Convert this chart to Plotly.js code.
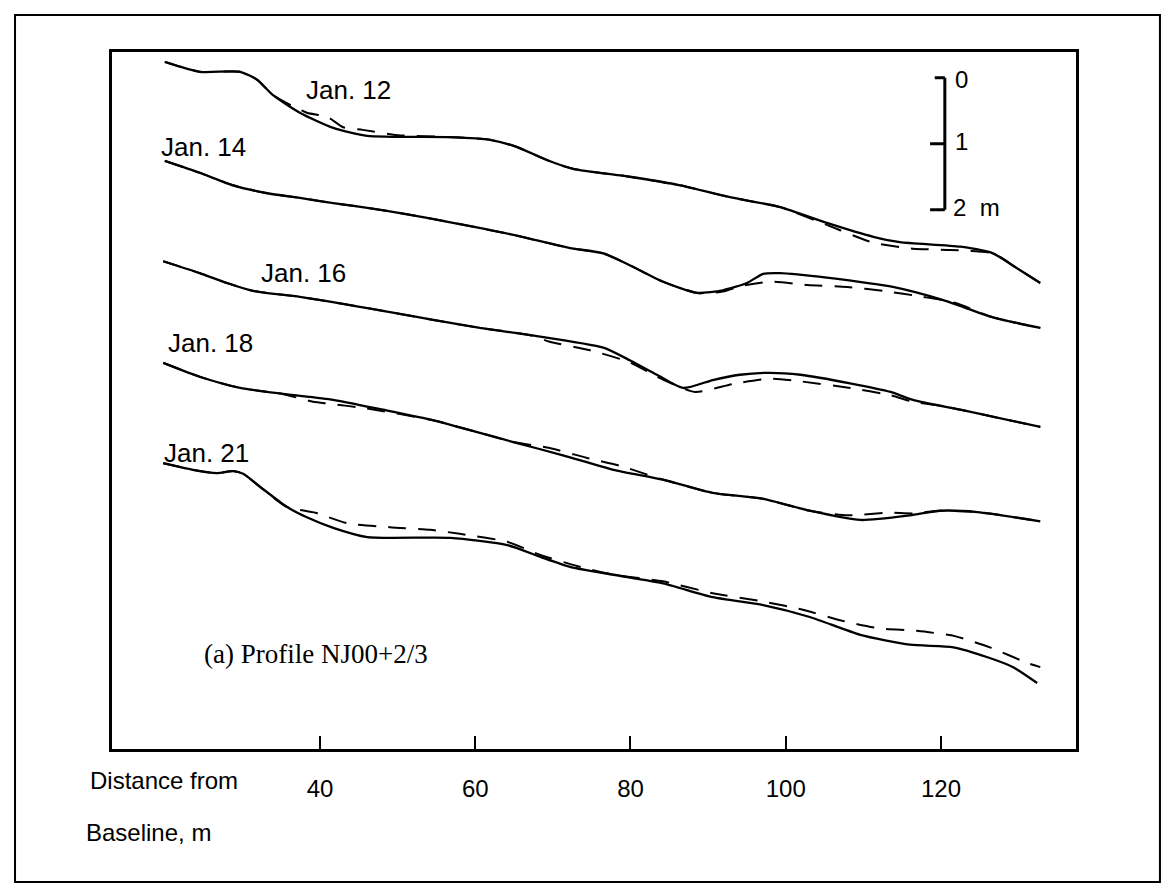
<!DOCTYPE html>
<html><head><meta charset="utf-8">
<script src="https://cdn.plot.ly/plotly-3.0.1.min.js"></script>
<style>body{margin:0;background:#fff}#chart{width:1174px;height:894px}</style>
</head><body><div id="chart"></div>
<script>
// Distance from baseline (m) and stacked profile elevation (m, display offset included)
const profileNames = ["Jan. 12", "Jan. 14", "Jan. 16", "Jan. 18", "Jan. 21"];
const xTickVals = [40, 60, 80, 100, 120];
const xTickText = ["40", "60", "80", "100", "120"];

const jan12SolidX = [20.0, 24.5, 29.7, 31.9, 33.9, 37.4, 41.7, 46.1, 56.8, 61.9, 65.4, 69.3, 72.6, 79.9, 86.4, 92.8, 99.3, 105.3, 111.3, 114.7, 122.5, 126.7, 129.6, 132.8];
const jan12SolidY = [-0.15, -0.30, -0.30, -0.42, -0.65, -0.92, -1.15, -1.27, -1.29, -1.33, -1.44, -1.64, -1.77, -1.89, -2.02, -2.20, -2.35, -2.59, -2.80, -2.88, -2.95, -3.05, -3.26, -3.50];
const jan12DashX = [20.0, 24.5, 29.7, 31.9, 33.9, 38.3, 40.9, 43.0, 45.5, 50.0, 56.8, 61.9, 65.4, 69.3, 72.6, 79.9, 86.4, 92.8, 99.3, 105.3, 111.3, 116.4, 121.2, 126.7, 129.6, 132.8];
const jan12DashY = [-0.15, -0.30, -0.30, -0.42, -0.65, -0.92, -0.98, -1.14, -1.18, -1.26, -1.29, -1.33, -1.44, -1.64, -1.77, -1.89, -2.02, -2.20, -2.35, -2.62, -2.89, -2.98, -3.00, -3.05, -3.26, -3.50];

const jan14SolidX = [20.0, 24.5, 28.8, 33.2, 37.4, 41.7, 46.1, 50.3, 56.8, 64.9, 72.2, 76.5, 79.9, 84.2, 88.6, 91.9, 95.0, 97.1, 99.3, 101.5, 105.3, 113.8, 120.3, 126.7, 132.8];
const jan14SolidY = [-1.65, -1.83, -2.02, -2.14, -2.21, -2.29, -2.36, -2.44, -2.58, -2.77, -2.97, -3.05, -3.23, -3.48, -3.65, -3.61, -3.50, -3.36, -3.35, -3.37, -3.42, -3.56, -3.76, -4.02, -4.18];
const jan14DashX = [20.0, 24.5, 28.8, 33.2, 37.4, 41.7, 46.1, 50.3, 56.8, 64.9, 72.2, 76.5, 79.9, 84.2, 88.6, 91.9, 94.1, 98.0, 102.8, 107.9, 112.6, 117.7, 121.8, 126.7, 132.8];
const jan14DashY = [-1.65, -1.83, -2.02, -2.14, -2.21, -2.29, -2.36, -2.44, -2.58, -2.77, -2.97, -3.05, -3.23, -3.48, -3.65, -3.63, -3.55, -3.48, -3.53, -3.56, -3.62, -3.71, -3.80, -4.02, -4.18];

const jan16SolidX = [19.8, 24.5, 28.0, 31.4, 37.4, 46.1, 54.6, 60.6, 67.1, 76.5, 79.9, 83.4, 86.8, 90.6, 94.1, 98.0, 101.9, 108.3, 113.5, 116.4, 122.5, 132.8];
const jan16SolidY = [-3.17, -3.35, -3.50, -3.62, -3.71, -3.88, -4.06, -4.18, -4.29, -4.48, -4.67, -4.89, -5.09, -4.97, -4.89, -4.86, -4.89, -5.02, -5.15, -5.27, -5.42, -5.68];
const jan16DashX = [19.8, 24.5, 28.0, 31.4, 37.4, 46.1, 54.6, 60.6, 67.1, 69.6, 74.8, 79.9, 83.8, 88.3, 93.2, 98.0, 101.9, 108.3, 113.5, 116.4, 119.9, 122.5, 132.8];
const jan16DashY = [-3.17, -3.35, -3.50, -3.62, -3.71, -3.88, -4.06, -4.18, -4.29, -4.39, -4.52, -4.70, -4.94, -5.15, -5.03, -4.95, -4.99, -5.09, -5.20, -5.30, -5.36, -5.42, -5.68];

const jan18SolidX = [19.8, 24.5, 29.7, 35.2, 41.7, 48.1, 54.6, 60.6, 64.9, 71.3, 77.8, 84.2, 90.6, 97.1, 103.1, 109.6, 116.0, 119.9, 124.7, 132.8];
const jan18SolidY = [-4.71, -4.92, -5.09, -5.18, -5.27, -5.42, -5.58, -5.77, -5.91, -6.11, -6.33, -6.48, -6.68, -6.77, -6.95, -7.09, -7.02, -6.95, -6.97, -7.11];
const jan18DashX = [19.8, 24.5, 29.7, 35.2, 39.1, 41.3, 46.0, 54.6, 60.6, 64.9, 69.6, 74.4, 78.7, 84.2, 90.6, 97.1, 103.1, 108.0, 113.1, 116.5, 119.9, 124.7, 132.8];
const jan18DashY = [-4.71, -4.92, -5.09, -5.18, -5.30, -5.33, -5.40, -5.58, -5.77, -5.91, -6.00, -6.15, -6.27, -6.48, -6.68, -6.77, -6.95, -7.02, -6.98, -6.99, -6.95, -6.97, -7.11];

const jan21SolidX = [19.8, 23.6, 26.7, 28.8, 30.1, 32.3, 35.7, 38.3, 41.7, 46.1, 56.8, 64.1, 68.4, 72.2, 77.8, 84.2, 90.6, 97.1, 103.1, 109.6, 116.0, 121.6, 126.0, 129.3, 132.4];
const jan21SolidY = [-6.23, -6.33, -6.38, -6.35, -6.39, -6.59, -6.89, -7.05, -7.21, -7.35, -7.36, -7.47, -7.65, -7.80, -7.92, -8.05, -8.26, -8.38, -8.56, -8.83, -8.98, -9.02, -9.17, -9.32, -9.56];
const jan21DashX = [19.8, 23.6, 26.7, 28.8, 30.1, 32.3, 35.7, 39.4, 43.5, 49.0, 54.2, 58.0, 64.1, 68.4, 73.2, 77.8, 84.2, 90.6, 97.3, 102.2, 107.0, 111.9, 116.9, 121.8, 126.3, 131.2, 132.8];
const jan21DashY = [-6.23, -6.33, -6.38, -6.35, -6.39, -6.59, -6.89, -6.98, -7.14, -7.20, -7.24, -7.30, -7.42, -7.62, -7.79, -7.92, -8.02, -8.20, -8.33, -8.45, -8.61, -8.73, -8.77, -8.85, -9.02, -9.26, -9.32];

// label anchor (left edge distance, centre elevation)
const labelX = [37.9, 19.3, 32.1, 20.2, 19.6];
const labelY = [-0.57, -1.44, -3.35, -4.41, -6.08];

const solids = [[jan12SolidX, jan12SolidY], [jan14SolidX, jan14SolidY], [jan16SolidX, jan16SolidY], [jan18SolidX, jan18SolidY], [jan21SolidX, jan21SolidY]];
const dashes = [[jan12DashX, jan12DashY], [jan14DashX, jan14DashY], [jan16DashX, jan16DashY], [jan18DashX, jan18DashY], [jan21DashX, jan21DashY]];

const traces = [];
dashes.forEach((d, i) => traces.push({x: d[0], y: d[1], mode: 'lines', name: profileNames[i] + ' (prev.)',
  line: {color: '#000', width: 2, dash: '18px,12px', shape: 'spline', smoothing: 0.6}, hoverinfo: 'skip'}));
solids.forEach((d, i) => traces.push({x: d[0], y: d[1], mode: 'lines', name: profileNames[i],
  line: {color: '#000', width: 2.3, shape: 'spline', smoothing: 0.6}}));

const sans = 'Liberation Sans, Arial, sans-serif';
const txtFont = {family: sans, size: 23, color: '#000'};
const labFont = {family: sans, size: 26, color: '#000'};
const annotations = profileNames.map((n, i) => ({x: labelX[i], y: labelY[i], xref: 'x', yref: 'y', text: n,
  showarrow: false, xanchor: 'left', yanchor: 'middle', font: labFont}));
annotations.push(
  {x: 121.6, y: -0.42, xref: 'x', yref: 'y', text: '0', showarrow: false, xanchor: 'left', yanchor: 'middle', font: {family: sans, size: 24, color: '#000'}},
  {x: 121.6, y: -1.36, xref: 'x', yref: 'y', text: '1', showarrow: false, xanchor: 'left', yanchor: 'middle', font: {family: sans, size: 24, color: '#000'}},
  {x: 121.3, y: -2.35, xref: 'x', yref: 'y', text: '2&nbsp;&nbsp;m', showarrow: false, xanchor: 'left', yanchor: 'middle', font: {family: sans, size: 24, color: '#000'}},
  {x: 24.8, y: -9.12, xref: 'x', yref: 'y', text: '(a) Profile NJ00+2/3', showarrow: false, xanchor: 'left', yanchor: 'middle',
   font: {family: 'Liberation Serif, Times New Roman, serif', size: 27, color: '#000'}},
  {x: -0.0249, y: -0.0459, xref: 'paper', yref: 'paper', text: 'Distance from', showarrow: false, xanchor: 'left', yanchor: 'middle', font: {family: sans, size: 24, color: '#000'}},
  {x: -0.029, y: -0.1205, xref: 'paper', yref: 'paper', text: 'Baseline, m', showarrow: false, xanchor: 'left', yanchor: 'middle', font: {family: sans, size: 24, color: '#000'}}
);

const shapes = [
  {type: 'rect', xref: 'paper', yref: 'paper', x0: -0.1006, x1: 1.0871, y0: -0.1908, y1: 1.0531, line: {color: '#000', width: 2}},
  {type: 'line', xref: 'x', yref: 'y', x0: 120.5, x1: 120.5, y0: -0.39, y1: -2.39, line: {color: '#000', width: 3}},
  {type: 'line', xref: 'x', yref: 'y', x0: 119.2, x1: 120.5, y0: -0.39, y1: -0.39, line: {color: '#000', width: 3}},
  {type: 'line', xref: 'x', yref: 'y', x0: 118.6, x1: 120.5, y0: -1.39, y1: -1.39, line: {color: '#000', width: 3}},
  {type: 'line', xref: 'x', yref: 'y', x0: 118.6, x1: 120.5, y0: -2.39, y1: -2.39, line: {color: '#000', width: 3}}
];

const layout = {
  width: 1174, height: 894,
  margin: {l: 112, r: 98, t: 52, b: 145},
  paper_bgcolor: '#fff', plot_bgcolor: '#fff',
  showlegend: false,
  xaxis: {range: [13.2, 137.4], showgrid: false, zeroline: false, showline: true, mirror: true,
    linecolor: '#000', linewidth: 3, ticks: 'inside', ticklen: 13, tickwidth: 2, tickcolor: '#000',
    tickvals: xTickVals, ticktext: xTickText, tickfont: {family: sans, size: 24, color: '#000'}, ticklabelstandoff: 16},
  yaxis: {range: [-10.56, 0], showgrid: false, zeroline: false, showline: true, mirror: true,
    linecolor: '#000', linewidth: 3, ticks: '', showticklabels: false},
  annotations: annotations,
  shapes: shapes
};
Plotly.newPlot('chart', traces, layout, {staticPlot: true});
</script></body></html>
